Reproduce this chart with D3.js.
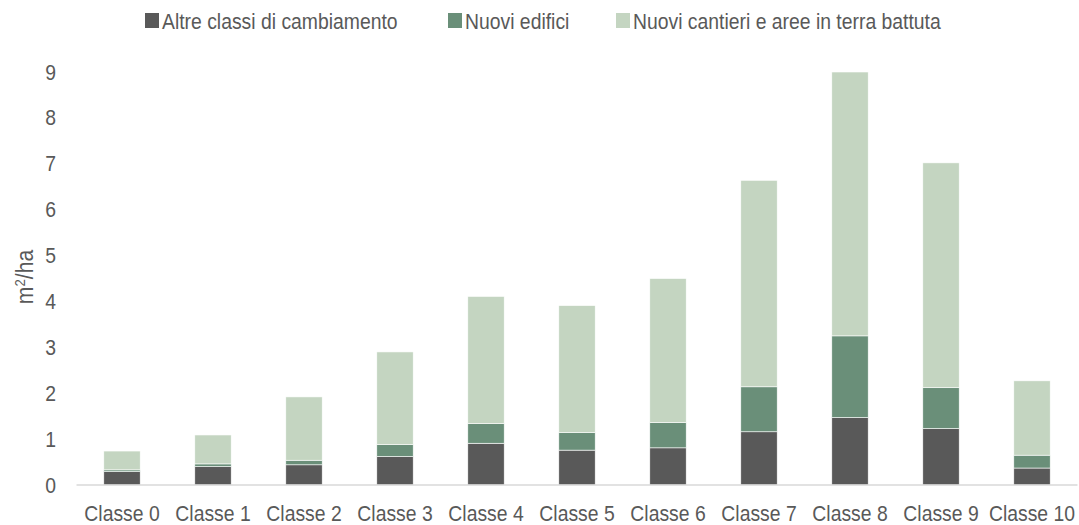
<!DOCTYPE html>
<html>
<head>
<meta charset="utf-8">
<script src="https://cdn.jsdelivr.net/npm/d3@7"></script>
<style>
  html, body { margin: 0; padding: 0; background: #fff; }
  svg { display: block; }
  text { font-family: "Liberation Sans Narrow", "Arial Narrow", "Liberation Sans", Arial, sans-serif; fill: #595959; }
</style>
</head>
<body>
<svg id="chart" width="1079" height="525"></svg>
<script>
// Categories and stacked series (m²/ha)
const categories = ["Classe 0", "Classe 1", "Classe 2", "Classe 3", "Classe 4", "Classe 5",
                    "Classe 6", "Classe 7", "Classe 8", "Classe 9", "Classe 10"];
const altreClassi = [0.29, 0.40, 0.44, 0.62, 0.91, 0.76, 0.81, 1.16, 1.47, 1.23, 0.37];
const nuoviEdifici = [0.04, 0.06, 0.10, 0.26, 0.43, 0.38, 0.55, 0.98, 1.78, 0.89, 0.28];
const nuoviCantieri = [0.41, 0.63, 1.38, 2.02, 2.77, 2.77, 3.14, 4.50, 5.75, 4.90, 1.62];
const seriesNames = ["Altre classi di cambiamento", "Nuovi edifici", "Nuovi cantieri e aree in terra battuta"];
const yTicks = [0, 1, 2, 3, 4, 5, 6, 7, 8, 9];
const colors = ["#595959", "#6a8f79", "#c4d5c1"];

// Horizontal squeeze that gives the regular sans a condensed look
const narrow = "scale(0.88,1)";

const svg = d3.select("#chart");
const keys = ["altre", "edifici", "cantieri"];
const rows = categories.map((c, i) => ({
  cat: c, altre: altreClassi[i], edifici: nuoviEdifici[i], cantieri: nuoviCantieri[i]
}));
const stacked = d3.stack().keys(keys)(rows);

const x = d3.scaleBand().domain(categories).range([76.5, 1077.5]).paddingInner(0.6).paddingOuter(0.3);
const y = d3.scaleLinear().domain([0, 9]).range([485, 72]);

// Stacked bars
svg.append("g").selectAll("g")
  .data(stacked)
  .join("g")
  .attr("fill", (d, i) => colors[i])
  .selectAll("rect")
  .data(d => d)
  .join("rect")
  .attr("x", d => x(d.data.cat))
  .attr("width", x.bandwidth())
  .attr("y", d => y(d[1]))
  .attr("height", d => y(d[0]) - y(d[1]))
  .attr("stroke", "#ffffff")
  .attr("stroke-width", 0.6);

// Category axis
const xAxis = svg.append("g")
  .attr("transform", `translate(0,${y(0)})`)
  .call(d3.axisBottom(x).tickSize(0).tickPadding(0));
xAxis.select(".domain").remove();
xAxis.append("line")
  .attr("x1", 76.5).attr("x2", 1077.5)
  .attr("stroke", "#d9d9d9").attr("stroke-width", 1.6);
xAxis.selectAll(".tick text")
  .attr("y", 36)
  .attr("dy", null)
  .attr("transform", narrow)
  .style("font-size", "22px")
  .style("fill", "#595959");

// Value axis labels
const yAxis = svg.append("g")
  .attr("transform", "translate(56,0)")
  .call(d3.axisLeft(y).tickValues(yTicks).tickSize(0).tickPadding(0).tickFormat(d3.format("d")));
yAxis.select(".domain").remove();
yAxis.selectAll(".tick text")
  .attr("transform", narrow)
  .style("font-size", "22px")
  .style("fill", "#595959");

// Axis title with superscript
const yTitle = svg.append("text")
  .attr("transform", `translate(33,277) rotate(-90) ${narrow}`)
  .attr("text-anchor", "middle")
  .style("font-size", "24px");
yTitle.append("tspan").text("m");
yTitle.append("tspan").attr("baseline-shift", "super").style("font-size", "15px").text("2");
yTitle.append("tspan").text("/ha");

// Legend
const legendX = [145, 448, 616];
const legend = svg.append("g");
seriesNames.forEach((name, i) => {
  const g = legend.append("g").attr("transform", `translate(${legendX[i]},0)`);
  g.append("rect").attr("x", 0).attr("y", 13).attr("width", 14).attr("height", 15).attr("fill", colors[i]);
  g.append("text").attr("transform", `translate(17,29) ${narrow}`).style("font-size", "22px").text(name);
});
</script>
</body>
</html>
